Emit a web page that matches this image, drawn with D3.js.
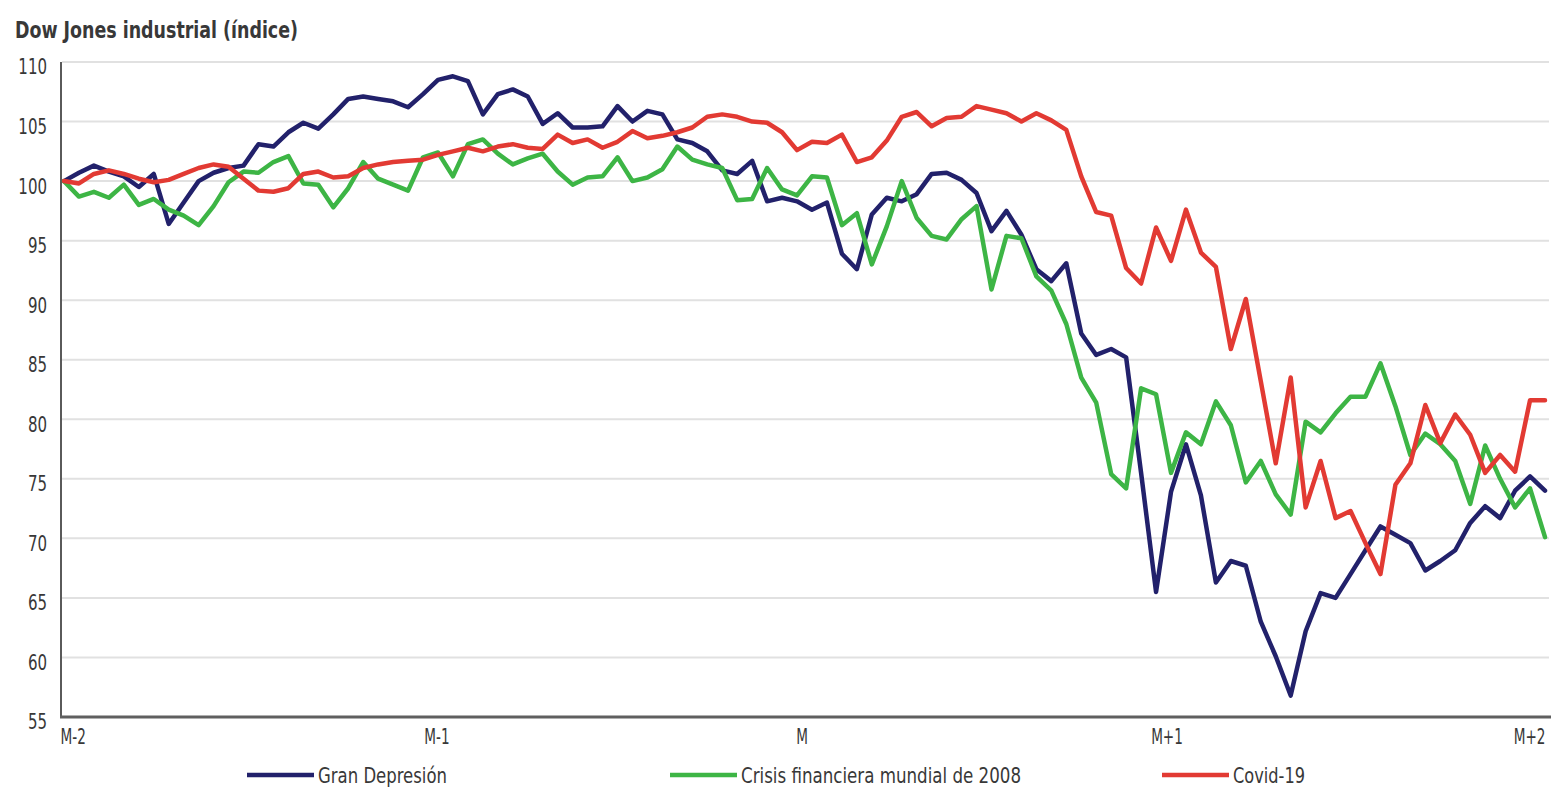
<!DOCTYPE html>
<html>
<head>
<meta charset="utf-8">
<script src="https://cdn.jsdelivr.net/npm/d3@7"></script>
<style>
  body { margin: 0; background: #fff; }
  text { font-family: 'DejaVu Sans Condensed', 'DejaVu Sans', sans-serif; fill: #383838; }
</style>
</head>
<body>
<svg class="chart"></svg>
<script>
// ticks
const yTicks = [55, 60, 65, 70, 75, 80, 85, 90, 95, 100, 105, 110];
const xTickPos = [0, 24.9, 49.3, 73.7, 99];
const xTickLabels = ['M-2', 'M-1', 'M', 'M+1', 'M+2'];

// series (index 100 = start)
const seriesNames = ['Gran Depresión', 'Crisis financiera mundial de 2008', 'Covid-19'];
const granDepresion = [
  100, 100.7, 101.3, 100.8, 100.4, 99.5, 100.6, 96.4, 98.2, 100.0,
  100.7, 101.1, 101.3, 103.1, 102.9, 104.1, 104.9, 104.4, 105.6, 106.9,
  107.1, 106.9, 106.7, 106.2, 107.3, 108.5, 108.8, 108.4, 105.6, 107.3,
  107.7, 107.1, 104.8, 105.7, 104.5, 104.5, 104.6, 106.3, 105.0, 105.9,
  105.6, 103.5, 103.2, 102.5, 100.9, 100.6, 101.7, 98.3, 98.6, 98.3,
  97.6, 98.2, 93.9, 92.6, 97.2, 98.6, 98.3, 98.9, 100.6, 100.7,
  100.1, 99.0, 95.8, 97.5, 95.5, 92.6, 91.6, 93.1, 87.2, 85.4,
  85.9, 85.2, 75.5, 65.5, 73.9, 77.9, 73.6, 66.3, 68.1, 67.7,
  63.0, 60.1, 56.8, 62.2, 65.4, 65.0, 67.0, 69.0, 71.0, 70.3,
  69.6, 67.3, 68.1, 69.0, 71.3, 72.7, 71.7, 74.0, 75.2, 74.0
];
const crisis2008 = [
  100, 98.7, 99.1, 98.6, 99.7, 98.0, 98.5, 97.6, 97.1, 96.3,
  97.9, 99.9, 100.8, 100.7, 101.6, 102.1, 99.8, 99.7, 97.8, 99.4,
  101.6, 100.2, 99.7, 99.2, 102.0, 102.4, 100.4, 103.1, 103.5, 102.3,
  101.4, 101.9, 102.3, 100.8, 99.7, 100.3, 100.4, 102.0, 100.0, 100.3,
  101.0, 102.9, 101.8, 101.4, 101.1, 98.4, 98.5, 101.1, 99.3, 98.8,
  100.4, 100.3, 96.3, 97.3, 93.0, 96.2, 100.0, 96.9, 95.4, 95.1,
  96.8, 97.9, 90.9, 95.4, 95.2, 92.0, 90.8, 88.0, 83.5, 81.4,
  75.4, 74.2, 82.6, 82.1, 75.5, 78.9, 77.9, 81.5, 79.5, 74.7,
  76.5, 73.7, 72.0, 79.8, 78.9, 80.5, 81.9, 81.9, 84.7, 81.1,
  77.0, 78.8, 77.9, 76.5, 72.9, 77.8, 75.0, 72.6, 74.2, 70.1
];
const covid19 = [
  100, 99.8, 100.6, 100.9, 100.6, 100.2, 99.9, 100.1, 100.6, 101.1,
  101.4, 101.2, 100.2, 99.2, 99.1, 99.4, 100.6, 100.8, 100.3, 100.4,
  101.1, 101.4, 101.6, 101.7, 101.8, 102.2, 102.5, 102.8, 102.5, 102.9,
  103.1, 102.8, 102.7, 103.9, 103.2, 103.5, 102.8, 103.3, 104.2, 103.6,
  103.8, 104.1, 104.5, 105.4, 105.6, 105.4, 105.0, 104.9, 104.1, 102.6,
  103.3, 103.2, 103.9, 101.6, 102.0, 103.4, 105.4, 105.8, 104.6, 105.3,
  105.4, 106.3, 106.0, 105.7, 105.0, 105.7, 105.1, 104.3, 100.4, 97.4,
  97.1, 92.7, 91.4, 96.1, 93.3, 97.6, 94.0, 92.8, 85.9, 90.1,
  83.2, 76.3, 83.5, 72.6, 76.5, 71.7, 72.3, 69.6, 67.0, 74.5,
  76.3, 81.2, 78.0, 80.4, 78.7, 75.5, 77.0, 75.6, 81.6, 81.6
];
const seriesColors = ['#22216b', '#3db545', '#e23a33'];

const width = 1555, height = 789;
const plot = {left: 61, right: 1549, top: 62, bottom: 717};

const svg = d3.select('.chart')
  .attr('width', width)
  .attr('height', height);

const x = d3.scaleLinear()
  .domain([0, granDepresion.length - 1])
  .range([64, 1545]);

const y = d3.scaleLinear()
  .domain([55, 110])
  .range([plot.bottom, plot.top]);

// title
svg.append('text')
  .attr('x', 15)
  .attr('y', 38)
  .attr('font-size', 23)
  .attr('font-weight', 'bold')
  .attr('textLength', 283)
  .attr('lengthAdjust', 'spacingAndGlyphs')
  .text('Dow Jones industrial (índice)');

// gridlines
svg.append('g')
  .selectAll('line')
  .data(yTicks.filter(d => d > 55))
.enter().append('line')
  .attr('x1', plot.left + 1)
  .attr('x2', plot.right)
  .attr('y1', d => y(d))
  .attr('y2', d => y(d))
  .attr('stroke', '#e1e1e1')
  .attr('stroke-width', 2);

// y axis (labels squeezed, the reference face is condensed)
const yAxis = svg.append('g')
  .attr('transform', `translate(${plot.left},0)`)
  .attr('font-family', null)
  .call(d3.axisLeft(y).tickValues(yTicks).tickSize(0).tickPadding(0));
yAxis.select('.domain').remove();
yAxis.selectAll('text')
  .attr('font-size', 22)
  .attr('x', -14 / 0.76)
  .attr('y', 4)
  .attr('dy', '0.36em')
  .attr('transform', 'scale(0.76,1)');

// axis lines
svg.append('line')
  .attr('x1', plot.left).attr('x2', plot.left)
  .attr('y1', plot.top).attr('y2', plot.bottom)
  .attr('stroke', '#5a5a5a').attr('stroke-width', 2);

// lines
const line = d3.line()
  .x((d, i) => x(i))
  .y(d => y(d));

[granDepresion, crisis2008, covid19].forEach((s, k) => {
  svg.append('path')
    .datum(s)
    .attr('fill', 'none')
    .attr('stroke', seriesColors[k])
    .attr('stroke-width', 4.5)
    .attr('stroke-linejoin', 'round')
    .attr('stroke-linecap', 'round')
    .attr('d', line);
});

// x axis
svg.append('line')
  .attr('x1', plot.left - 1).attr('x2', 1551)
  .attr('y1', plot.bottom).attr('y2', plot.bottom)
  .attr('stroke', '#5f5f5f').attr('stroke-width', 3);

const xAxis = svg.append('g')
  .attr('transform', `translate(0,${plot.bottom})`)
  .attr('font-family', null)
  .call(d3.axisBottom(x).tickValues(xTickPos).tickSize(0).tickPadding(12)
    .tickFormat((d, i) => xTickLabels[i]));
xAxis.select('.domain').remove();
xAxis.selectAll('text')
  .attr('font-size', 21)
  .attr('text-anchor', (d, i) => i === 0 ? 'start' : (i === xTickPos.length - 1 ? 'end' : 'middle'))
  .attr('x', (d, i) => i === 0 ? -4 / 0.72 : 0)
  .attr('transform', 'scale(0.72,1)');

// legend
const legendX = [247, 670, 1162];
const legendW = [129, 280, 72];
const legend = svg.append('g').attr('transform', 'translate(0,775)');
seriesNames.forEach((name, k) => {
  legend.append('line')
    .attr('x1', legendX[k]).attr('x2', legendX[k] + 67)
    .attr('y1', 0).attr('y2', 0)
    .attr('stroke', seriesColors[k])
    .attr('stroke-width', 4.5);
  legend.append('text')
    .attr('x', legendX[k] + 71)
    .attr('y', 8)
    .attr('font-size', 21)
    .attr('textLength', legendW[k])
    .attr('lengthAdjust', 'spacingAndGlyphs')
    .text(name);
});
</script>
</body>
</html>
